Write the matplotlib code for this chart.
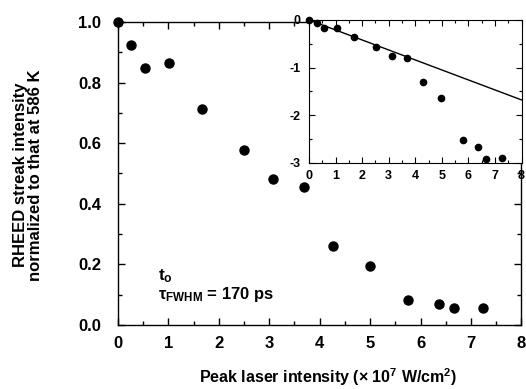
import numpy as np
import matplotlib
matplotlib.use("Agg")
import matplotlib.pyplot as plt

plt.rcParams['font.family'] = ['Liberation Sans', 'DejaVu Sans']
plt.rcParams['font.weight'] = 'bold'
plt.rcParams['axes.unicode_minus'] = False
plt.rcParams['mathtext.fontset'] = 'custom'
plt.rcParams['mathtext.rm'] = 'Liberation Sans:bold'
plt.rcParams['mathtext.it'] = 'Liberation Sans:bold'
plt.rcParams['mathtext.bf'] = 'Liberation Sans:bold'

# main panel: normalized RHEED streak intensity
laser = [0.0, 0.26, 0.54, 1.01, 1.67, 2.49, 3.08, 3.68, 4.26, 5.0, 5.76, 6.37, 6.67, 7.24]
rheed = [1.0, 0.925, 0.847, 0.864, 0.714, 0.577, 0.481, 0.456, 0.261, 0.196, 0.083, 0.068, 0.055, 0.055]

# inset: log of the same, with linear fit
inset_x = [0.0, 0.29, 0.57, 1.04, 1.69, 2.51, 3.11, 3.68, 4.30, 4.97, 5.78, 6.38, 6.66, 7.25]
inset_y = [0.0, -0.07, -0.17, -0.17, -0.36, -0.56, -0.75, -0.80, -1.31, -1.64, -2.52, -2.68, -2.92, -2.91]
fit_x = [0.0, 8.0]
fit_y = [0.0, -1.68]

fig = plt.figure(figsize=(5.26, 3.89), dpi=100)
ax = fig.add_axes([0.2243, 0.1645, 0.767, 0.779])
ax.plot(laser, rheed, 'o', color='black', markersize=6.5, clip_on=False, zorder=5)
ax.set_xlim(0, 8)
ax.set_ylim(0, 1.0)
ax.set_xticks(np.arange(0, 9, 1))
ax.set_xticks(np.arange(0, 8.01, 0.5), minor=True)
ax.set_yticks(np.arange(0, 1.01, 0.2))
ax.set_yticks(np.arange(0, 1.01, 0.1), minor=True)
ax.yaxis.set_major_formatter(matplotlib.ticker.FormatStrFormatter('%.1f'))
ax.tick_params(which='both', direction='in', top=True, right=True, labelsize=12, width=1)
ax.tick_params(which='major', length=5)
ax.tick_params(which='minor', length=3)
ax.tick_params(axis='y', pad=12)
ax.tick_params(axis='x', pad=8)
for s in ax.spines.values():
    s.set_linewidth(1)

ax.set_xlabel('Peak laser intensity (× 10$^{7}$ W/cm$^{2}$)', fontsize=11.5, fontweight='bold')
ax.xaxis.set_label_coords(0.52, -0.135)
ax.set_ylabel('RHEED streak intensity\nnormalized to that at 586 K', fontsize=12,
              fontweight='bold', linespacing=1.0)
ax.yaxis.set_label_coords(-0.185, 0.495)

ax.text(0.8, 0.162, 't$_{\\mathrm{o}}$', fontsize=12.5, fontweight='bold', va='center')
ax.text(0.8, 0.100, 'τ$_{\\mathrm{FWHM}}$ = 170 ps', fontsize=12, fontweight='bold', va='center')

# inset
ins = fig.add_axes([0.5875, 0.5817, 0.404, 0.3669])
ins.plot(inset_x, inset_y, 'o', color='black', markersize=4.5, clip_on=False, zorder=5)
ins.plot(fit_x, fit_y, '-', color='black', linewidth=1)
ins.set_xlim(0, 8)
ins.set_ylim(-3, 0)
ins.set_xticks(np.arange(0, 9, 1))
ins.set_xticks(np.arange(0, 8.01, 0.5), minor=True)
ins.set_yticks([0, -1, -2, -3])
ins.set_yticks(np.arange(-3, 0.01, 0.5), minor=True)
ins.tick_params(which='both', direction='in', top=True, right=True, labelsize=9, width=0.8)
ins.tick_params(which='major', length=4)
ins.tick_params(which='minor', length=2.5)
ins.tick_params(axis='y', pad=6)
ins.tick_params(axis='x', pad=5)

fig.savefig('out.png', dpi=100)
